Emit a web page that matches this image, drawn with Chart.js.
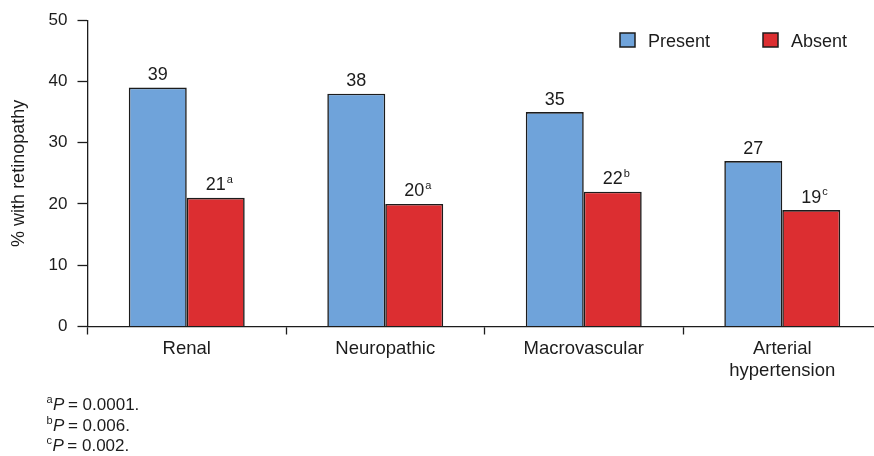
<!DOCTYPE html>
<html>
<head>
<meta charset="utf-8">
<script src="https://cdn.jsdelivr.net/npm/chart.js@4/dist/chart.umd.min.js"></script>
<style>
  html, body { margin: 0; padding: 0; background: #fff; overflow: hidden; }
  #wrap { width: 890px; height: 456px; }
</style>
</head>
<body>
<div id="wrap"><canvas id="c" width="890" height="456"></canvas></div>
<script>
// Complication groups and share of patients with retinopathy (%)
const categories = ['Renal', 'Neuropathic', 'Macrovascular', ['Arterial', 'hypertension']];
const presentValues = [39, 38, 35, 27];
const absentValues = [21, 20, 22, 19];
const absentNotes = ['a', 'a', 'b', 'c'];
const footnotes = [['a', '0.0001'], ['b', '0.006'], ['c', '0.002']];
const yTicks = [0, 10, 20, 30, 40, 50];
const seriesNames = ['Present', 'Absent'];

const ink = '#1c1c1c';
const blue = '#6fa3da';
const red = '#dc2e31';
const FONT = '"Liberation Sans", Arial, Helvetica, sans-serif';

// Numbers above bars, with the significance letter as a superscript
const valueLabels = {
  id: 'valueLabels',
  afterDatasetsDraw(chart) {
    const ctx = chart.ctx;
    ctx.save();
    ctx.fillStyle = ink;
    chart.data.datasets.forEach((ds, di) => {
      const meta = chart.getDatasetMeta(di);
      meta.data.forEach((bar, i) => {
        const txt = String(ds.data[i]);
        const y = bar.y - 7.5;
        ctx.font = '18px ' + FONT;
        ctx.textAlign = 'center';
        ctx.textBaseline = 'alphabetic';
        ctx.fillText(txt, bar.x, y);
        if (di === 1 && absentNotes[i]) {
          const w = ctx.measureText(txt).width;
          ctx.font = '11px ' + FONT;
          ctx.textAlign = 'left';
          ctx.fillText(absentNotes[i], bar.x + w / 2 + 1, y - 7.5);
        }
      });
    });
    ctx.restore();
  }
};

// Legend inside the plot area, top right
const boxLegend = {
  id: 'boxLegend',
  afterDraw(chart) {
    const ctx = chart.ctx;
    const spots = [[620, 648], [763, 791]];
    ctx.save();
    chart.data.datasets.forEach((ds, di) => {
      const [bx, tx] = spots[di];
      ctx.fillStyle = ds.backgroundColor;
      ctx.fillRect(bx, 33, 15, 14);
      ctx.strokeStyle = ink;
      ctx.lineWidth = 1.5;
      ctx.strokeRect(bx, 33, 15, 14);
      ctx.fillStyle = ink;
      ctx.font = '18px ' + FONT;
      ctx.textAlign = 'left';
      ctx.textBaseline = 'alphabetic';
      ctx.fillText(ds.label, tx, 46.5);
    });
    ctx.restore();
  }
};

// P-value notes under the chart
const notesBlock = {
  id: 'notesBlock',
  afterDraw(chart) {
    const ctx = chart.ctx;
    ctx.save();
    ctx.fillStyle = ink;
    ctx.textAlign = 'left';
    ctx.textBaseline = 'alphabetic';
    footnotes.forEach(([letter, p], i) => {
      const base = 410 + i * 20.5;
      let x = 46.5;
      ctx.font = '11px ' + FONT;
      ctx.fillText(letter, x, base - 7);
      x += ctx.measureText(letter).width + 0.5;
      ctx.font = 'italic 17px ' + FONT;
      ctx.fillText('P', x, base);
      x += ctx.measureText('P').width + 3.5;
      ctx.font = '17px ' + FONT;
      ctx.fillText('= ' + p + '.', x, base);
    });
    ctx.restore();
  }
};

new Chart(document.getElementById('c'), {
  type: 'bar',
  data: {
    labels: categories,
    datasets: [
      { label: seriesNames[0], data: presentValues, backgroundColor: blue, borderColor: ink, borderWidth: 1.6 },
      { label: seriesNames[1], data: absentValues, backgroundColor: red, borderColor: ink, borderWidth: 1.6 }
    ]
  },
  options: {
    responsive: false,
    animation: false,
    devicePixelRatio: 1,
    layout: { padding: { top: 19.5, right: 8.5, left: 0, bottom: 0 } },
    datasets: { bar: { categoryPercentage: 0.584, barPercentage: 1 } },
    plugins: { legend: { display: false }, tooltip: { enabled: false } },
    scales: {
      x: {
        afterFit(scale) { scale.height = 129.5; },
        grid: { offset: true, drawOnChartArea: false, drawTicks: true, tickLength: 8, tickColor: ink, tickWidth: 1.3 },
        border: { display: true, color: ink, width: 1.3 },
        ticks: { color: ink, font: { family: FONT, size: 18.5, lineHeight: 1.2 }, padding: 3, maxRotation: 0, autoSkip: false }
      },
      y: {
        min: 0, max: 50,
        afterFit(scale) { scale.width = 87.5; },
        afterBuildTicks(scale) { scale.ticks = yTicks.map(v => ({ value: v })); },
        grid: { drawOnChartArea: false, drawTicks: true, tickLength: 10, tickColor: ink, tickWidth: 1.3 },
        border: { display: true, color: ink, width: 1.3 },
        ticks: { color: ink, font: { family: FONT, size: 17 }, padding: 10 },
        title: { display: true, text: '% with retinopathy', color: ink, font: { family: FONT, size: 18 }, padding: { top: 8, bottom: 0 } }
      }
    }
  },
  plugins: [valueLabels, boxLegend, notesBlock]
});
</script>
</body>
</html>
